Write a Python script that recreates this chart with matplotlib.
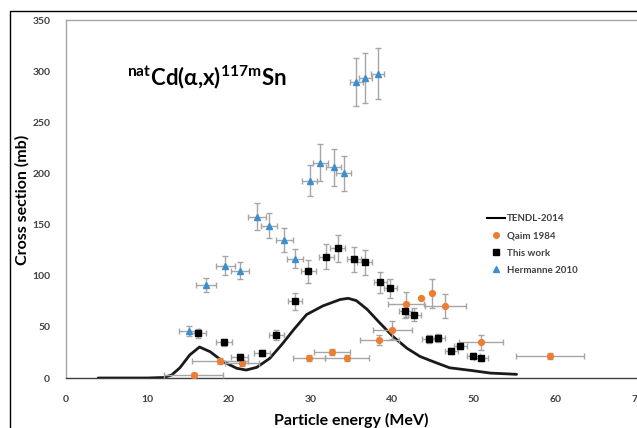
import matplotlib
matplotlib.use("Agg")
import matplotlib.pyplot as plt
from matplotlib.lines import Line2D

plt.rcParams['font.family'] = ['Lato', 'DejaVu Sans']
plt.rcParams['mathtext.fontset'] = 'custom'
plt.rcParams['mathtext.rm'] = 'Lato'
plt.rcParams['mathtext.bf'] = 'Lato:bold'

# TENDL-2014 curve
tendl_e = [4, 10, 12, 13, 14, 15.2, 16.4, 17.7, 19.3, 20.95, 22.1, 23.4, 25.0, 26.5, 28.0,
           29.5, 31.5, 33.6, 34.6, 35.6, 36.9, 38.5, 40.1, 41.8, 43.4, 45.0, 47.0, 49.9, 52, 55.2]
tendl_s = [0, 0, 0.5, 3, 10, 22.5, 30.3, 25.7, 16, 9.5, 7.8, 10.4, 19.2, 33, 48,
           62, 70.5, 76.7, 77.9, 75.6, 67.2, 53.5, 40.4, 29, 21, 16, 10, 7.1, 4.8, 3.6]

# Qaim 1984
qaim_e = [15.7, 18.9, 21.6, 29.8, 32.6, 34.45, 38.4, 40.0, 41.7, 43.5, 44.9, 46.5, 50.9, 59.3]
qaim_s = [3.3, 16.3, 15.0, 19.2, 25.1, 19.2, 36.8, 47.2, 72.0, 78.5, 82.8, 70.4, 34.9, 21.5]
qaim_xerr = [3.6, 3.4, 2.1, 2.0, 2.2, 2.7, 2.4, 2.4, 2.2, 0, 0, 2.5, 2.7, 4.2]
qaim_yerr = [2, 3, 3, 3, 3, 3, 5, 8.7, 12, 0, 14, 12, 7.5, 3]

# This work
tw_e = [16.25, 19.4, 21.3, 24.05, 25.8, 28.1, 29.7, 31.9, 33.3, 35.3, 36.6, 38.5, 39.75,
        41.6, 42.7, 44.45, 45.6, 47.2, 48.3, 49.9, 50.85]
tw_s = [43.7, 34.9, 20.8, 24.4, 42, 74.8, 104.3, 118.6, 126.8, 116, 113, 93.5, 87.7,
        65.2, 61.9, 38.3, 39.5, 26.7, 31.2, 21.6, 19.2]
tw_xerr = [1.0, 1.0, 1.0, 1.0, 0.9, 0.9, 0.9, 0.9, 0.9, 0.9, 0.9, 0.8, 0.8,
           0.8, 0.8, 0.8, 0.8, 0.8, 0.8, 0.8, 0.8]
tw_yerr = [4.5, 3.5, 2.5, 2.5, 4.5, 8, 11, 12, 13, 12, 12, 10, 9,
           7, 6.5, 4, 4, 3, 3.2, 2.5, 2.2]

# Hermanne 2010
her_e = [15.15, 17.2, 19.56, 21.3, 23.4, 24.9, 26.8, 28.1, 29.9, 31.2, 32.8, 34.05, 35.6, 36.7, 38.2]
her_s = [46, 91, 109.8, 105, 157.7, 149, 135, 116.6, 193, 210.5, 206, 200, 289, 293.5, 297.5]
her_xerr = [1.2, 1.2, 1.2, 1.1, 1.1, 1.0, 1.0, 1.0, 0.9, 0.9, 0.9, 0.9, 0.8, 0.8, 0.8]
her_yerr = [4.5, 7, 9, 8, 13, 12, 11.5, 9.3, 15.5, 18, 18, 16.7, 23.5, 24.7, 24.7]

W, H = 637, 428
fig = plt.figure(figsize=(W / 100, H / 100), dpi=100)
ax = fig.add_axes([65.5 / W, 50 / H, 572 / W, 358 / H])

ecol = '#a6a6a6'
ax.plot(tendl_e, tendl_s, color='#1a1a1a', lw=2.0, zorder=3, label='TENDL-2014',
        solid_joinstyle='round', solid_capstyle='round')
ax.errorbar(qaim_e, qaim_s, xerr=qaim_xerr, yerr=qaim_yerr, fmt='o', color='#ED7D31',
            ms=4.2, ecolor=ecol, elinewidth=1.0, capsize=2, zorder=4, label='Qaim 1984')
ax.errorbar(tw_e, tw_s, xerr=tw_xerr, yerr=tw_yerr, fmt='s', color='black',
            ms=4.5, ecolor=ecol, elinewidth=1.0, capsize=2, zorder=4, label='This work')
ax.errorbar(her_e, her_s, xerr=her_xerr, yerr=her_yerr, fmt='^', color='#3A8FD0',
            ms=4.2, ecolor=ecol, elinewidth=1.0, capsize=2, zorder=4, label='Hermanne 2010')

ax.set_xlim(0, 70)
ax.set_ylim(0, 350)
ax.set_xticks(range(0, 71, 10))
ax.set_yticks(range(0, 351, 50))
ax.tick_params(length=0, labelsize=7.5, labelcolor='#404040', pad=12)
ax.tick_params(axis='y', pad=11)
for lab in ax.get_xticklabels() + ax.get_yticklabels():
    lab.set_fontweight('bold')
for s in ['left', 'top']:
    ax.spines[s].set_color('#a6a6a6')
    ax.spines[s].set_linewidth(1.0)
ax.spines['right'].set_visible(False)
ax.spines['bottom'].set_color('#404040')
ax.spines['bottom'].set_linewidth(1.0)

ax.set_xlabel('Particle energy (MeV)', fontsize=11.5, fontweight='bold', labelpad=7)
fig.text(22 / W, 1 - 200 / H, 'Cross section (mb)', rotation=90, fontsize=11.5,
         fontweight='bold', ha='center', va='center')

fig.text(127 / W, 1 - 85 / H,
         r'$\mathbf{^{nat}}$' + 'Cd(α,x)' + r'$\mathbf{^{117m}}$' + 'Sn',
         fontsize=16, fontweight='bold', va='baseline', ha='left')

handles = [Line2D([], [], color='black', lw=1.5),
           Line2D([], [], marker='o', ls='none', color='#ED7D31', ms=4),
           Line2D([], [], marker='s', ls='none', color='black', ms=4),
           Line2D([], [], marker='^', ls='none', color='#3A8FD0', ms=4)]
leg = fig.legend(handles, ['TENDL-2014', 'Qaim 1984', 'This work', 'Hermanne 2010'],
                 loc='upper left', bbox_to_anchor=(487 / W, 1 - 214 / H), frameon=False,
                 fontsize=7, handlelength=1.9, handletextpad=0.15, labelspacing=0.85,
                 borderpad=0, borderaxespad=0)
for t in leg.get_texts():
    t.set_fontweight('bold')
    t.set_color('#404040')

# outer chart-area frame
fig.add_artist(Line2D([10 / W, 10 / W, 1.0], [0, 1 - 11 / H, 1 - 11 / H],
                      transform=fig.transFigure, color='black', lw=1.0))

fig.savefig('out.png', dpi=100)
